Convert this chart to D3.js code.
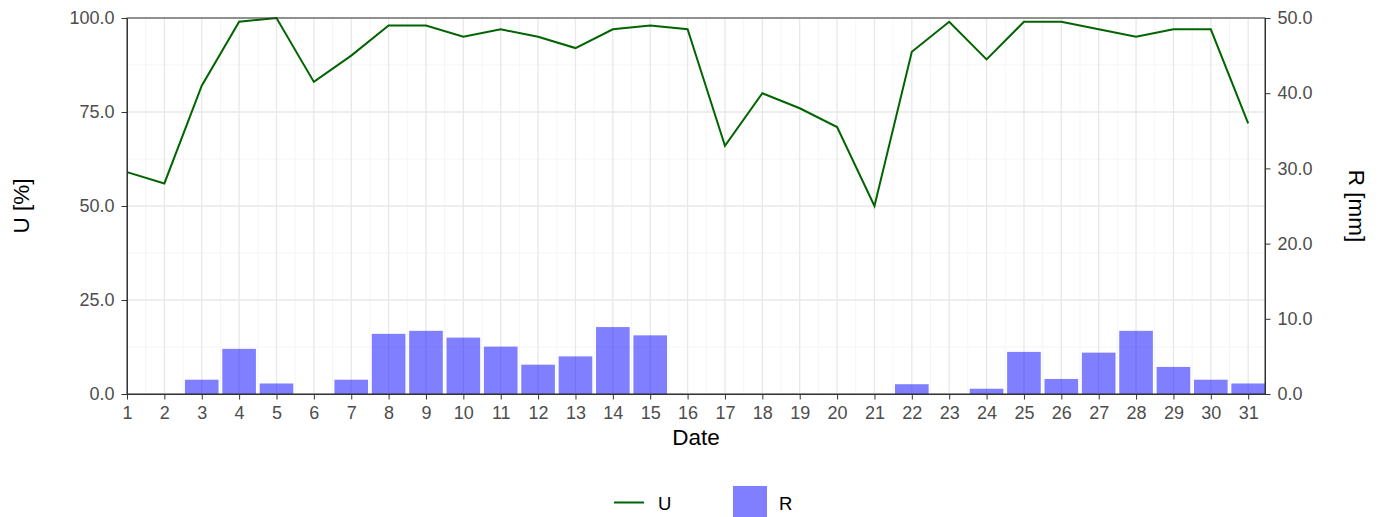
<!DOCTYPE html>
<html>
<head>
<meta charset="utf-8">
<script src="https://cdn.jsdelivr.net/npm/d3@7"></script>
<style>
  body { margin: 0; background: #fff; }
  text { font-family: "Liberation Sans", Arial, sans-serif; }
</style>
</head>
<body>
<script>
// daily values
const days = d3.range(1, 32);
const uValues = [59, 56, 82, 99, 100, 83, 90, 98, 98, 95, 97, 95, 92, 97, 98, 97,
  66, 80, 76, 71, 50, 91, 99, 89, 99, 99, 97, 95, 97, 97, 72];
const rValues = [0, 0, 1.9, 6.0, 1.4, 0, 1.9, 8.0, 8.4, 7.5, 6.3, 3.9, 5.0, 8.9, 7.8, 0,
  0, 0, 0, 0, 0, 1.3, 0, 0.7, 5.6, 2.0, 5.5, 8.4, 3.6, 1.9, 1.4];
const uTicks = [0, 25, 50, 75, 100];
const rTicks = [0, 10, 20, 30, 40, 50];

const width = 1384;
const height = 517;
const plotLeft = 127, plotRight = 1265, plotTop = 18, plotBottom = 394;

const svg = d3.select("body").append("svg")
  .attr("width", width)
  .attr("height", height);

const x = d3.scaleLinear().domain([1, 31.45]).range([plotLeft, plotRight]);
const yU = d3.scaleLinear().domain([0, 100]).range([plotBottom, plotTop]);
const yR = d3.scaleLinear().domain([0, 50]).range([plotBottom, plotTop]);

// grid
const grid = svg.append("g");
grid.selectAll(".hminor").data([12.5, 37.5, 62.5, 87.5]).enter().append("line")
  .attr("x1", plotLeft).attr("x2", plotRight)
  .attr("y1", d => yU(d)).attr("y2", d => yU(d))
  .attr("stroke", "#f3f3f3").attr("stroke-width", 0.8);
grid.selectAll(".vminor").data(days.map(d => d + 0.5).filter(d => d < 31.45)).enter().append("line")
  .attr("x1", d => x(d)).attr("x2", d => x(d))
  .attr("y1", plotTop).attr("y2", plotBottom)
  .attr("stroke", "#f3f3f3").attr("stroke-width", 0.8);
grid.selectAll(".hmajor").data(uTicks).enter().append("line")
  .attr("x1", plotLeft).attr("x2", plotRight)
  .attr("y1", d => yU(d)).attr("y2", d => yU(d))
  .attr("stroke", "#e8e8e8").attr("stroke-width", 1.3);
grid.selectAll(".vmajor").data(days).enter().append("line")
  .attr("x1", d => x(d)).attr("x2", d => x(d))
  .attr("y1", plotTop).attr("y2", plotBottom)
  .attr("stroke", "#e8e8e8").attr("stroke-width", 1.3);

// bars
const bw = x(1.9) - x(1);
svg.append("g").selectAll("rect").data(days.filter((d, i) => rValues[i] > 0)).enter().append("rect")
  .attr("x", d => x(d) - bw / 2)
  .attr("width", bw)
  .attr("y", d => yR(rValues[d - 1]))
  .attr("height", d => plotBottom - yR(rValues[d - 1]))
  .attr("fill", "rgba(0,0,255,0.5)");

// line
const line = d3.line().x((d, i) => x(days[i])).y(d => yU(d));
svg.append("path")
  .datum(uValues)
  .attr("d", line)
  .attr("fill", "none")
  .attr("stroke", "#006400")
  .attr("stroke-width", 2);

// panel border
svg.append("rect")
  .attr("x", plotLeft).attr("y", plotTop)
  .attr("width", plotRight - plotLeft).attr("height", plotBottom - plotTop)
  .attr("fill", "none").attr("stroke", "#333").attr("stroke-width", 1);

// axes
const styleAxis = g => {
  g.select(".domain").attr("stroke", "#333");
  g.selectAll(".tick line").attr("stroke", "#333");
  g.selectAll(".tick text").attr("fill", "#4d4d4d").style("font-size", "18px")
    .style("font-family", "'Liberation Sans', Arial, sans-serif");
};

svg.append("g")
  .attr("transform", `translate(0,${plotBottom})`)
  .call(d3.axisBottom(x).tickValues(days).tickFormat(d3.format("d")).tickSize(5.5).tickPadding(7).tickSizeOuter(0))
  .call(styleAxis);

svg.append("g")
  .attr("transform", `translate(${plotLeft},0)`)
  .call(d3.axisLeft(yU).tickValues(uTicks).tickFormat(d3.format(".1f")).tickSize(5.5).tickPadding(7).tickSizeOuter(0))
  .call(styleAxis);

svg.append("g")
  .attr("transform", `translate(${plotRight},0)`)
  .call(d3.axisRight(yR).tickValues(rTicks).tickFormat(d3.format(".1f")).tickSize(5.5).tickPadding(7).tickSizeOuter(0))
  .call(styleAxis);

// titles
svg.append("text")
  .attr("x", (plotLeft + plotRight) / 2).attr("y", 445)
  .attr("text-anchor", "middle")
  .style("font-size", "22.5px").attr("fill", "#000")
  .text("Date");

svg.append("text")
  .attr("transform", `translate(29,${(plotTop + plotBottom) / 2}) rotate(-90)`)
  .attr("text-anchor", "middle")
  .style("font-size", "22.5px").attr("fill", "#000")
  .text("U [%]");

svg.append("text")
  .attr("transform", `translate(1349,${(plotTop + plotBottom) / 2}) rotate(90)`)
  .attr("text-anchor", "middle")
  .style("font-size", "22.5px").attr("fill", "#000")
  .text("R [mm]");

// legend
const legend = svg.append("g");
legend.append("line")
  .attr("x1", 614).attr("x2", 644).attr("y1", 502.5).attr("y2", 502.5)
  .attr("stroke", "#006400").attr("stroke-width", 2);
legend.append("text").attr("x", 658).attr("y", 510)
  .style("font-size", "18.5px").attr("fill", "#000").text("U");
legend.append("rect")
  .attr("x", 733).attr("y", 486).attr("width", 34).attr("height", 32)
  .attr("fill", "rgba(0,0,255,0.5)");
legend.append("text").attr("x", 779).attr("y", 510)
  .style("font-size", "18.5px").attr("fill", "#000").text("R");
</script>
</body>
</html>
